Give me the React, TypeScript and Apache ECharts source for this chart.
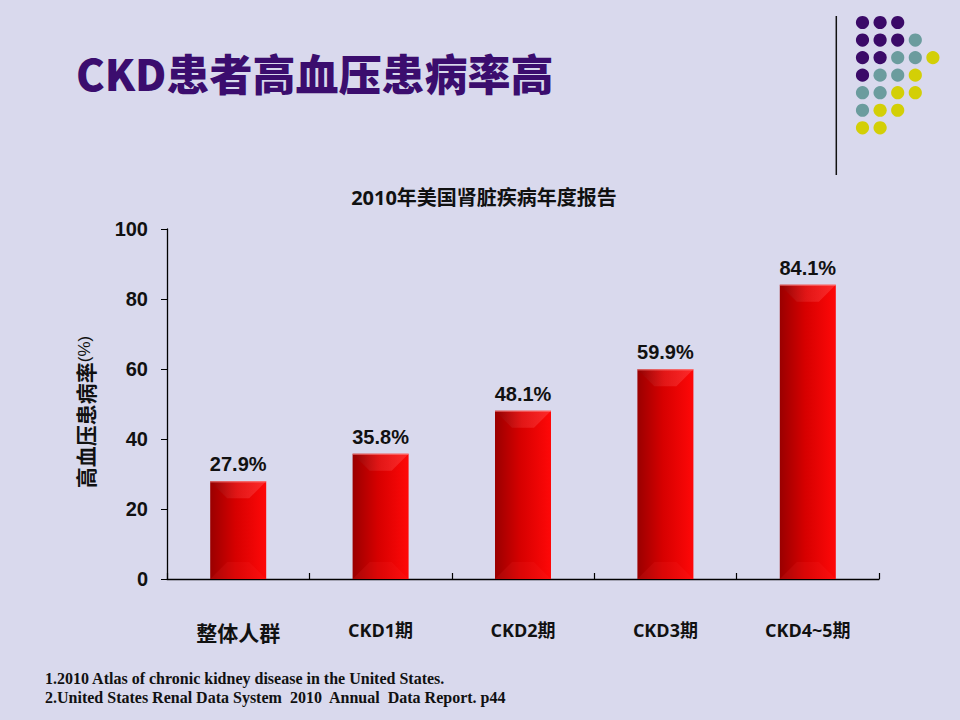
import React, { useEffect, useRef } from "react";
import * as echarts from "echarts";

const categories = ["整体人群", "CKD1期", "CKD2期", "CKD3期", "CKD4~5期"];
const values = [27.9, 35.8, 48.1, 59.9, 84.1];
const yMin = 0;
const yMax = 100;
const yInterval = 20;
const titleText = "CKD患者高血压患病率高";
const subtitleText = "2010年美国肾脏疾病年度报告";
const yAxisName = "高血压患病率";
const footnotes = [
  "1.2010 Atlas of chronic kidney disease in the United States.",
  "2.United States Renal Data System  2010  Annual  Data Report. p44",
];
// decorative dot grid: P = purple, T = teal, Y = yellow
const dotRows = ["PPP", "PPPT", "PPTTY", "PTTY", "TTYY", "TYY", "YY"];

const BAR_W = 56;

export default function App() {
  const ref = useRef<HTMLDivElement>(null);
  useEffect(() => {
    if (!ref.current) return;
    const chart = echarts.init(ref.current, undefined, { renderer: "svg" });
    const dotColors: Record<string, string> = {
      P: "#3b0a68",
      T: "#6b9c9e",
      Y: "#d3cf06",
    };
    const dots: any[] = [];
    dotRows.forEach((row, r) => {
      row.split("").forEach((c, k) => {
        dots.push({
          type: "circle",
          shape: { cx: 862.5 + k * 17.6, cy: 22.5 + r * 17.55, r: 6.6 },
          style: { fill: dotColors[c] },
          silent: true,
        });
      });
    });
    chart.setOption({
      animation: false,
      backgroundColor: "#d9d9ed",
      title: {
        text: subtitleText,
        left: 479,
        top: 182,
        textAlign: "center",
        textStyle: {
          fontFamily: "'Open Sans', 'Noto Sans CJK SC', sans-serif",
          fontWeight: "bold",
          fontSize: 20,
          color: "#111",
        },
      },
      grid: { left: 167, right: 81, top: 229, bottom: 141 },
      xAxis: {
        type: "category",
        data: categories,
        axisLine: { lineStyle: { color: "#000", width: 1.3 } },
        axisTick: {
          show: true,
          interval: 0,
          inside: true,
          length: 6,
          lineStyle: { color: "#000", width: 1.2 },
        },
        axisLabel: {
          interval: 0,
          margin: 42,
          color: "#111",
          fontFamily: "'Open Sans', 'Noto Sans CJK SC', sans-serif",
          fontWeight: "bold",
          fontSize: 18,
          formatter: (v: string, i: number) => (i === 0 ? `{zh|${v}}` : v),
          rich: {
            zh: {
              fontFamily: "'Noto Sans CJK SC', sans-serif",
              fontWeight: "bold",
              fontSize: 21,
              color: "#111",
            },
          },
        },
      },
      yAxis: {
        type: "value",
        min: yMin,
        max: yMax,
        interval: yInterval,
        splitLine: { show: false },
        axisLine: { show: true, lineStyle: { color: "#000", width: 1.3 } },
        axisTick: { show: true, length: 6, lineStyle: { color: "#000" } },
        axisLabel: {
          margin: 19,
          color: "#111",
          fontFamily: "'Liberation Sans', Arial, sans-serif",
          fontWeight: "bold",
          fontSize: 20,
        },
        name: `{a|${yAxisName}}{b|(%)}`,
        nameLocation: "middle",
        nameGap: 72,
        nameTextStyle: {
          padding: [0, 16, 0, 0],
          rich: {
            a: {
              fontFamily: "'Noto Sans CJK SC', sans-serif",
              fontWeight: "bold",
              fontSize: 21,
              color: "#111",
            },
            b: {
              fontFamily: "'Liberation Sans', sans-serif",
              fontSize: 17,
              color: "#111",
            },
          },
        },
      },
      series: [
        {
          type: "bar",
          data: values,
          barWidth: BAR_W,
          itemStyle: {
            color: {
              type: "linear",
              x: 0,
              y: 0,
              x2: 1,
              y2: 0,
              colorStops: [
                { offset: 0, color: "#9a0000" },
                { offset: 0.45, color: "#d60000" },
                { offset: 1, color: "#ff0808" },
              ],
            },
          },
          label: {
            show: true,
            position: "top",
            distance: 7,
            formatter: (p: any) => `${p.value.toFixed(1)}%`,
            color: "#111",
            fontFamily: "'Liberation Sans', Arial, sans-serif",
            fontWeight: "bold",
            fontSize: 20,
          },
        },
        {
          type: "custom",
          silent: true,
          z: 3,
          data: values.map((v, i) => [i, v]),
          renderItem: (params: any, api: any) => {
            const top = api.coord([api.value(0), api.value(1)]);
            const bot = api.coord([api.value(0), 0]);
            const L = top[0] - BAR_W / 2;
            const R = top[0] + BAR_W / 2;
            const T = top[1];
            const B = bot[1];
            const b = 17;
            return {
              type: "group",
              children: [
                {
                  type: "polygon",
                  shape: {
                    points: [
                      [L, T],
                      [R, T],
                      [R - b, T + b],
                      [L + b, T + b],
                    ],
                  },
                  style: {
                    fill: {
                      type: "linear",
                      x: 0,
                      y: 0,
                      x2: 1,
                      y2: 0,
                      colorStops: [
                        { offset: 0, color: "rgba(120,0,0,0.35)" },
                        { offset: 0.5, color: "rgba(255,90,90,0.25)" },
                        { offset: 1, color: "rgba(255,120,120,0.3)" },
                      ],
                    },
                  },
                },
                {
                  type: "polygon",
                  shape: {
                    points: [
                      [L, B],
                      [R, B],
                      [R - b, B - b],
                      [L + b, B - b],
                    ],
                  },
                  style: { fill: "rgba(255,60,60,0.12)" },
                },
                {
                  type: "line",
                  shape: { x1: L, y1: T + 0.5, x2: R, y2: T + 0.5 },
                  style: { stroke: "rgba(255,140,140,0.8)", lineWidth: 1 },
                },
              ],
            };
          },
        },
      ],
      graphic: [
        {
          type: "text",
          left: 76,
          top: 50,
          style: {
            text: titleText,
            fontFamily: "'Noto Sans CJK SC', sans-serif",
            fontWeight: 900,
            fontSize: 43,
            fill: "#3b0d6e",
            shadowColor: "rgba(0,0,0,0.35)",
            shadowBlur: 3,
            shadowOffsetX: 2,
            shadowOffsetY: 2,
          },
        },
        {
          type: "line",
          shape: { x1: 836.3, y1: 16, x2: 836.3, y2: 175 },
          style: { stroke: "#111", lineWidth: 1.5 },
          silent: true,
        },
        ...dots,
        ...footnotes.map((t, i) => ({
          type: "text",
          left: 45,
          top: 670 + i * 19,
          style: {
            text: t,
            fontFamily: "'Liberation Serif', 'Times New Roman', serif",
            fontWeight: "bold",
            fontSize: 16,
            fill: "#111",
          },
        })),
      ],
    });
    return () => chart.dispose();
  }, []);
  return <div ref={ref} style={{ width: 960, height: 720, position: "absolute", left: 0, top: 0 }} />;
}
